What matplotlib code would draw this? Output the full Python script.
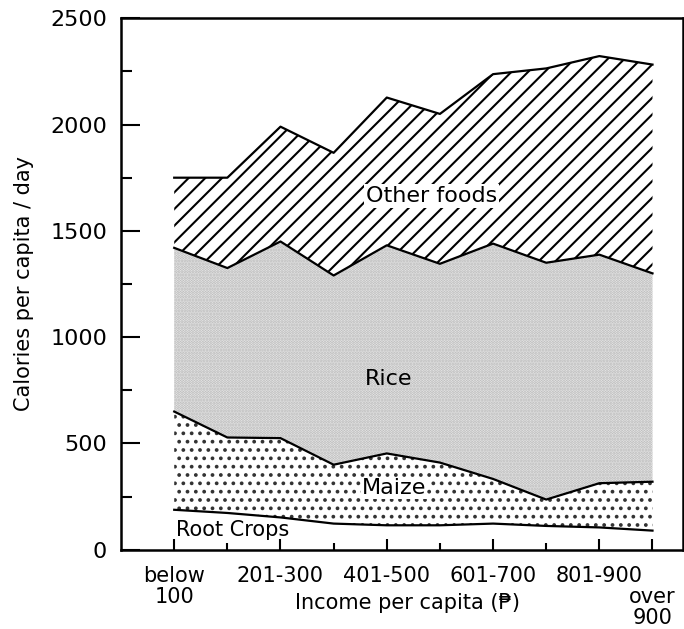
import matplotlib
matplotlib.use("Agg")
import matplotlib.pyplot as plt
import numpy as np

# ---- data (calories per capita per day) ----
categories = ["below 100", "101-200", "201-300", "301-400", "401-500",
              "501-600", "601-700", "701-800", "801-900", "over 900"]
root_crops = [188, 173, 152, 123, 115, 115, 123, 112, 105, 90]
maize = [462, 355, 373, 277, 338, 295, 210, 124, 208, 230]
rice = [770, 797, 925, 890, 979, 935, 1107, 1114, 1075, 980]
other_foods = [330, 425, 540, 577, 695, 705, 797, 914, 934, 982]

tick_idx = [0, 2, 4, 6, 8, 9]
tick_labels = ["below\n100", "201-300", "401-500", "601-700", "801-900", "over\n900"]
minor_idx = [1, 3, 5, 7]

plt.rcParams["font.family"] = ["DejaVu Sans"]
plt.rcParams["hatch.linewidth"] = 1.5

fig = plt.figure(figsize=(6.84, 6.29), dpi=100)
ax = fig.add_axes([0.177, 0.126, 0.822, 0.845])

x = np.arange(len(categories))
y1 = np.array(root_crops)
y2 = y1 + np.array(maize)
y3 = y2 + np.array(rice)
y4 = y3 + np.array(other_foods)

# fills
ax.fill_between(x, 0, y1, facecolor="white", edgecolor="none", linewidth=0)
ax.fill_between(x, y1, y2, facecolor="white", edgecolor="#333333", hatch="..", linewidth=0)
ax.fill_between(x, y2, y3, facecolor="#efefef", edgecolor="#b4b4b4", hatch="......", linewidth=0)
ax.fill_between(x, y3, y4, facecolor="white", edgecolor="black", hatch="//", linewidth=0)

# boundary lines
for yy in (y1, y2, y3, y4):
    ax.plot(x, yy, color="black", linewidth=1.6, solid_joinstyle="round")

# area labels
fs = 15
ax.text(4.84, 1663, "Other foods", ha="center", va="center", fontsize=fs + 1,
        bbox=dict(facecolor="white", edgecolor="none", pad=1.5))
ax.text(4.03, 803, "Rice", ha="center", va="center", fontsize=fs + 1)
ax.text(4.14, 291, "Maize", ha="center", va="center", fontsize=fs + 1,
        bbox=dict(facecolor="white", edgecolor="none", pad=0.5))
ax.text(0.03, 92, "Root Crops", ha="left", va="center", fontsize=fs)

ax.set_xlim(-1.0, 9.58)
ax.set_ylim(0, 2500)

ax.set_yticks(np.arange(0, 2501, 500))
ax.set_yticks(np.arange(250, 2500, 500), minor=True)
ax.set_xticks(tick_idx)
ax.set_xticklabels(tick_labels, fontsize=fs, linespacing=1.05)
ax.set_xticks(minor_idx, minor=True)

ax.tick_params(axis="y", which="major", direction="in", length=14, width=1.5,
               labelsize=fs + 1, pad=10)
ax.tick_params(axis="y", which="minor", direction="in", length=8, width=1.5)
ax.tick_params(axis="x", which="major", direction="in", length=8, width=1.5,
               labelsize=fs, pad=12)
ax.tick_params(axis="x", which="minor", direction="in", length=5, width=1.5)

last = ax.xaxis.get_major_ticks()[-1]
last.set_pad(27)

for s in ax.spines.values():
    s.set_linewidth(1.8)

ax.set_xlabel("Income per capita (\u20b1)", fontsize=fs)
ax.xaxis.set_label_coords(0.51, -0.082)
ax.set_ylabel("Calories per capita / day", fontsize=fs, labelpad=12)

fig.savefig("out.png", dpi=100)
